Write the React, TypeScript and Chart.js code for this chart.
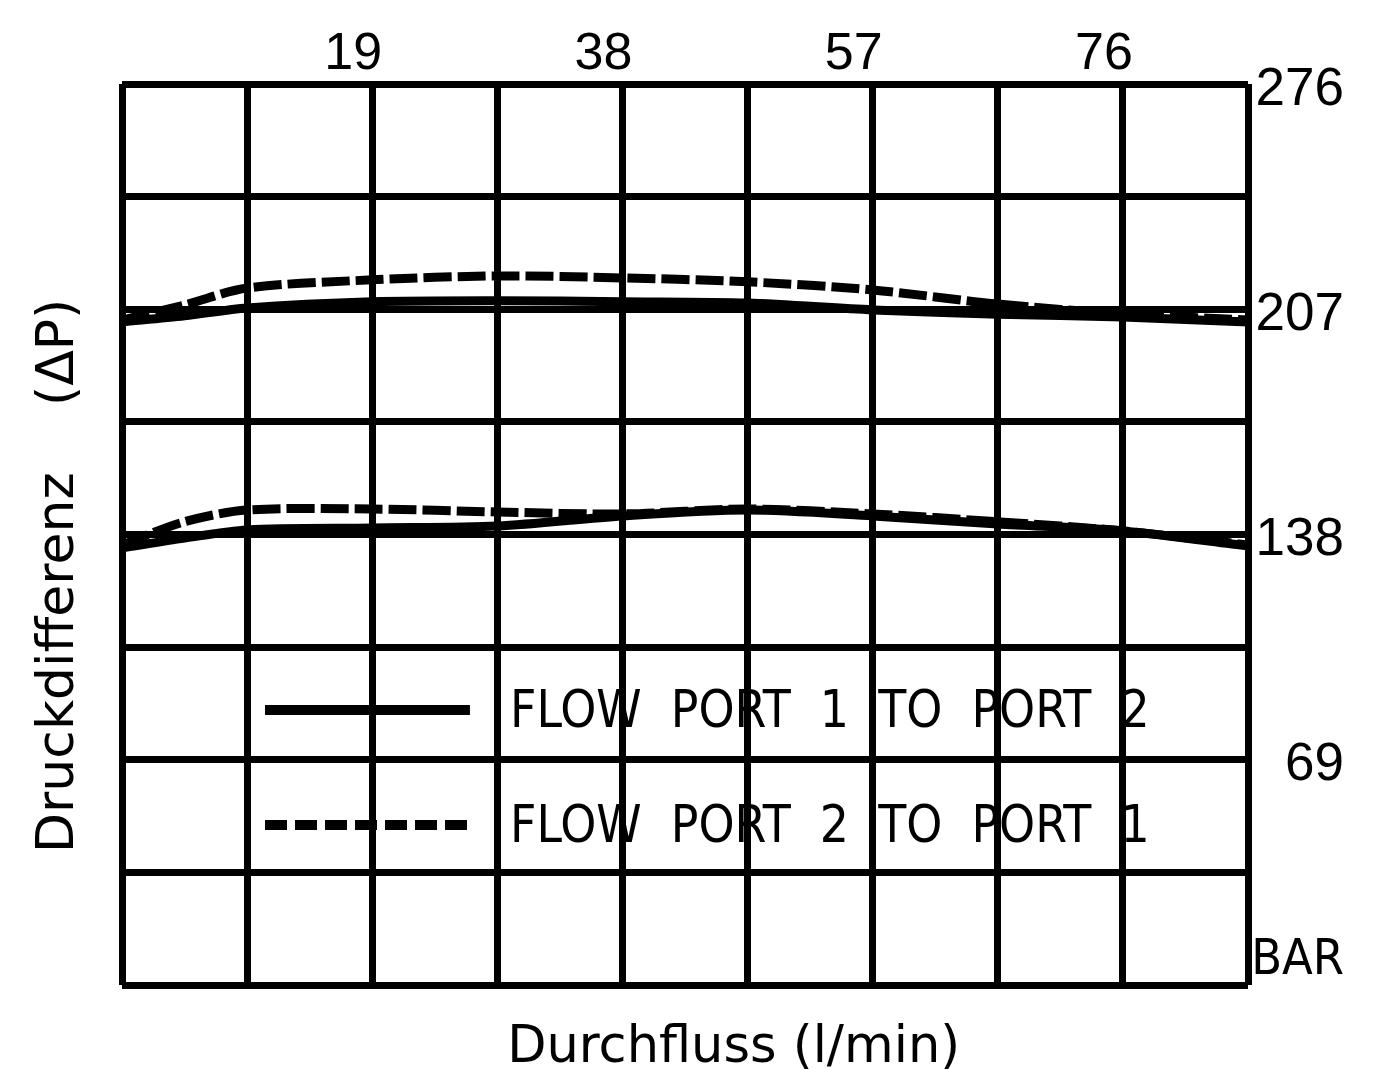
import React, { useEffect, useRef } from "react";
import { Chart, registerables } from "chart.js";

Chart.register(...registerables);

// ---- data ----
const FLOW_LPM = [0, 4.75, 9.5, 19, 28.5, 38, 47.5, 57, 66.5, 76, 85.5];
const HIGH_P1_TO_P2 = [203.1, 205.0, 207.4, 209.3, 209.6, 209.3, 208.9, 206.8, 205.5, 204.6, 203.1];
const HIGH_P2_TO_P1 = [203.7, 208.3, 213.5, 216.0, 217.2, 216.6, 215.4, 212.9, 208.6, 205.6, 203.7];
const LOW_P1_TO_P2 = [133.9, 136.9, 139.4, 140.0, 140.6, 143.7, 145.5, 143.7, 141.2, 139.1, 134.5];
const LOW_P2_TO_P1 = [134.8, 141.9, 145.5, 145.8, 144.9, 144.3, 145.8, 144.3, 141.9, 139.1, 134.8];

const X_TICK_LABELS = [19, 38, 57, 76];
const X_MAX = 85.5;
const X_GRID_STEP = 9.5;
const Y_MAX = 276;
const Y_GRID_STEP = 34.5;
const Y_LABEL_STEP = 69;
const Y_ZERO_LABEL = "BAR";

const LEGEND_TEXT = ["FLOW  PORT  1  TO  PORT  2", "FLOW  PORT  2  TO  PORT  1"];
const X_TITLE = "Durchfluss (l/min)";
const Y_TITLE = "Druckdifferenz    (\u0394P)";

const SOLID_DASH: number[] = [];
const DASHED_DASH = [28, 6];

const REG = "'Liberation Sans', Arial, sans-serif";
const NARROW = "'Liberation Sans Narrow', 'DejaVu Sans Condensed', 'Liberation Sans', sans-serif";
const TITLE_FONT = "'DejaVu Sans', sans-serif";

const toPoints = (ys: number[]) => FLOW_LPM.map((x, i) => ({ x, y: ys[i] }));

const inlineLegend = {
  id: "inlineLegend",
  afterDatasetsDraw(chart: any) {
    const { ctx, chartArea: a } = chart;
    const w = a.right - a.left;
    const h = a.bottom - a.top;
    const rows = [
      { text: LEGEND_TEXT[0], ds: chart.data.datasets[0] },
      { text: LEGEND_TEXT[1], ds: chart.data.datasets[1] },
    ];
    ctx.save();
    rows.forEach((row, i) => {
      const y = a.top + h * (0.6948 + i * 0.1276);
      ctx.beginPath();
      ctx.setLineDash(row.ds.borderDash && row.ds.borderDash.length ? [22, 8] : []);
      ctx.lineWidth = 10;
      ctx.strokeStyle = row.ds.borderColor;
      ctx.moveTo(a.left + w * 0.127, y);
      ctx.lineTo(a.left + w * 0.309, y);
      ctx.stroke();
      ctx.setLineDash([]);
      ctx.fillStyle = "#000";
      ctx.font = `51px ${NARROW}`;
      ctx.textBaseline = "middle";
      ctx.textAlign = "left";
      ctx.fillText(row.text, a.left + w * 0.3446, y + 4);
    });
    ctx.restore();
  },
};

export default function App() {
  const canvasRef = useRef<HTMLCanvasElement | null>(null);

  useEffect(() => {
    if (!canvasRef.current) return;
    const line = (label: string, ys: number[], dash: number[]) => ({
      label,
      data: toPoints(ys),
      borderColor: "#000",
      backgroundColor: "#000",
      borderWidth: 9,
      borderDash: dash,
      pointRadius: 0,
      tension: 0.3,
      fill: false,
      xAxisID: "x",
      yAxisID: "y",
    });

    const chart = new Chart(canvasRef.current, {
      type: "line",
      data: {
        datasets: [
          line("FLOW PORT 1 TO PORT 2 (207 bar)", HIGH_P1_TO_P2, SOLID_DASH),
          line("FLOW PORT 2 TO PORT 1 (207 bar)", HIGH_P2_TO_P1, DASHED_DASH),
          line("FLOW PORT 1 TO PORT 2 (138 bar)", LOW_P1_TO_P2, SOLID_DASH),
          line("FLOW PORT 2 TO PORT 1 (138 bar)", LOW_P2_TO_P1, DASHED_DASH),
        ] as any,
      },
      options: {
        animation: false,
        responsive: true,
        maintainAspectRatio: false,
        layout: { padding: { left: 0, top: 0, bottom: 0, right: 48 } },
        plugins: {
          legend: { display: false },
          tooltip: { enabled: false },
          title: { display: false },
        },
        scales: {
          x: {
            type: "linear",
            position: "bottom",
            min: 0,
            max: X_MAX,
            ticks: { stepSize: X_GRID_STEP, display: false, autoSkip: false },
            grid: { color: "#000", lineWidth: 7, drawTicks: false },
            border: { display: false },
            title: {
              display: true,
              text: "      " + X_TITLE,
              color: "#000",
              font: { family: TITLE_FONT, size: 51 },
              padding: { top: 0, bottom: -9 },
            },
            afterFit: (s: any) => {
              s.height = 85;
            },
          },
          xTop: {
            type: "linear",
            position: "top",
            min: 0,
            max: X_MAX,
            afterBuildTicks: (s: any) => {
              s.ticks = X_TICK_LABELS.map((v) => ({ value: v }));
            },
            ticks: {
              color: "#000",
              font: { family: REG, size: 52 },
              padding: -2,
              labelOffset: -19,
              maxRotation: 0,
              autoSkip: false,
            },
            grid: { display: false, drawTicks: false },
            border: { display: false },
            afterFit: (s: any) => {
              s.height = 84;
            },
          },
          y: {
            type: "linear",
            position: "right",
            min: 0,
            max: Y_MAX,
            ticks: {
              stepSize: Y_GRID_STEP,
              autoSkip: false,
              color: "#000",
              padding: 8,
              crossAlign: "far",
              labelOffset: 6,
              font: (c: any) =>
                c.tick && c.tick.value === 0
                  ? { family: NARROW, size: 50 }
                  : { family: REG, size: 53 },
              callback: (v: any) => {
                const n = Number(v);
                if (n % Y_LABEL_STEP !== 0) return "";
                if (n === 0) return [Y_ZERO_LABEL, ""];
                return String(n);
              },
            },
            grid: { color: "#000", lineWidth: 7, drawTicks: false },
            border: { display: false },
            afterFit: (s: any) => {
              s.width = 96;
            },
          },
          yTitle: {
            type: "linear",
            position: "left",
            min: 0,
            max: Y_MAX,
            ticks: { display: false },
            grid: { display: false, drawTicks: false },
            border: { display: false },
            title: {
              display: true,
              text: Y_TITLE + "     ",
              color: "#000",
              font: { family: TITLE_FONT, size: 52 },
              padding: { top: 28, bottom: 0 },
            },
            afterFit: (s: any) => {
              s.width = 122;
            },
          },
        } as any,
      },
      plugins: [inlineLegend],
    });
    return () => chart.destroy();
  }, []);

  return (
    <div
      style={{
        position: "fixed",
        left: 0,
        top: 0,
        width: 1392,
        height: 1070,
        background: "#fff",
      }}
    >
      <canvas ref={canvasRef} />
    </div>
  );
}
